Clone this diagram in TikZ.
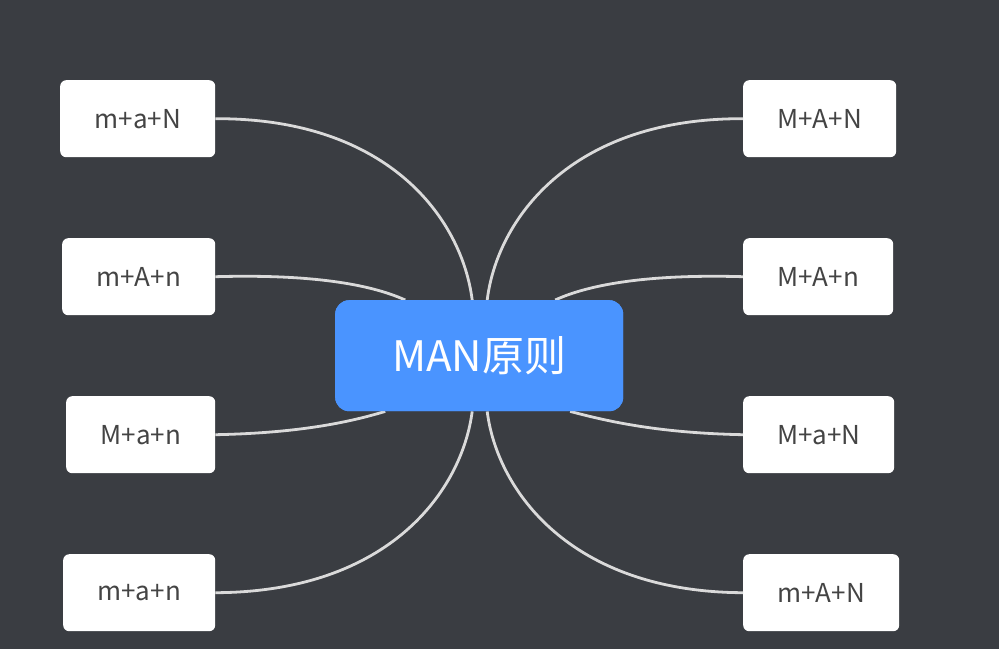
\documentclass[tikz,border=0pt]{standalone}
\usepackage{fontspec}
\setmainfont{Noto Sans CJK SC}
\definecolor{bg}{HTML}{3A3D42}
\definecolor{cen}{HTML}{4A94FF}
\definecolor{txt}{HTML}{444444}
\definecolor{ln}{HTML}{DADADA}
\begin{document}
\begin{tikzpicture}[x=1pt,y=-1pt,
  leaf/.style={fill=white,rounded corners=6pt,text=txt,font=\fontsize{26}{30}\selectfont,inner sep=0pt,anchor=north west},
  con/.style={draw=ln,line width=2.8pt}]
\fill[bg] (0,0) rectangle (999,649);
\useasboundingbox (0,0) rectangle (999,649);
\node[fill=cen,rounded corners=14pt,text=white,font=\fontsize{42}{48}\selectfont,minimum width=288pt,minimum height=111pt,inner sep=0pt,anchor=north west] (c) at (335,300) {MAN原则};
\node[leaf,minimum width=155pt,minimum height=77pt] (l1) at (60,80) {m+a+N};
\node[leaf,minimum width=153pt,minimum height=77pt] (l2) at (62,238) {m+A+n};
\node[leaf,minimum width=149pt,minimum height=77pt] (l3) at (66,396) {M+a+n};
\node[leaf,minimum width=152pt,minimum height=77pt] (l4) at (63,554) {m+a+n};
\node[leaf,minimum width=153pt,minimum height=77pt] (r1) at (743,80) {M+A+N};
\node[leaf,minimum width=150pt,minimum height=77pt] (r2) at (743,238) {M+A+n};
\node[leaf,minimum width=151pt,minimum height=77pt] (r3) at (743,396) {M+a+N};
\node[leaf,minimum width=156pt,minimum height=77pt] (r4) at (743,554) {m+A+N};
\begin{scope}[on background layer/.style={}]
\draw[con] (l1.east) .. controls (390,118) and (462,220) .. ([xshift=-7pt]c.north);
\draw[con] (l2.east) .. controls (310,274) and (370,284) .. ([xshift=-74pt]c.north);
\draw[con] (l3.east) .. controls (300,433) and (350,422) .. ([xshift=-94pt]c.south);
\draw[con] (l4.east) .. controls (390,592) and (462,490) .. ([xshift=-7pt]c.south);
\draw[con] (r1.west) .. controls (570,118) and (497,220) .. ([xshift=8pt]c.north);
\draw[con] (r2.west) .. controls (650,274) and (590,284) .. ([xshift=76pt]c.north);
\draw[con] (r3.west) .. controls (660,433) and (610,422) .. ([xshift=91pt]c.south);
\draw[con] (r4.west) .. controls (570,592) and (497,490) .. ([xshift=8pt]c.south);
\end{scope}
\node[fill=cen,rounded corners=14pt,text=white,font=\fontsize{42}{48}\selectfont,minimum width=288pt,minimum height=111pt,inner sep=0pt,anchor=north west] at (335,300) {MAN原则};
\end{tikzpicture}
\end{document}
